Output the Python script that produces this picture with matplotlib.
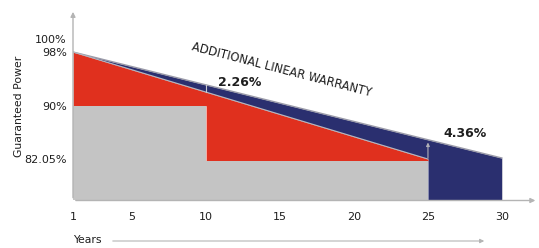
import numpy as np
import matplotlib
matplotlib.use("Agg")
import matplotlib.pyplot as plt

# ---- data ----
x_ticks = [1, 5, 10, 15, 20, 25, 30]
y_ticks = [100, 98, 90, 82.05]
y_tick_labels = ["100%", "98%", "90%", "82.05%"]

start_year = 1
start_power = 98            # both warranties start here
standard_end_year = 25
standard_end_power = 82.05  # standard (red) linear line end
linear_end_year = 30
linear_end_power = 82.2     # additional linear warranty end
step_years = [1, 10, 10, 25]
step_power = [90, 90, 81.8, 81.8]  # stepped product guarantee (grey)
gap_labels = ["2.26%", "4.36%"]

y_bottom = 75.87
y_top = 105.75

GREY = "#c4c4c4"
RED = "#e0301e"
BLUE = "#2a2f6f"
TXT = "#1e1e1e"
AX = "#b4b4b4"

fig = plt.figure(figsize=(5.39, 2.48), dpi=100)
ax = fig.add_axes([73 / 539, 1 - 200.5 / 248, 466 / 539, 200.5 / 248])
ax.set_xlim(1, 1 + 466 / 14.79)
ax.set_ylim(y_bottom, y_top)
for s in ax.spines.values():
    s.set_visible(False)


def std_line(x):
    return np.interp(x, [start_year, standard_end_year], [start_power, standard_end_power])


def lin_line(x):
    return np.interp(x, [start_year, linear_end_year], [start_power, linear_end_power])


# blue region
bx = np.array([1, 25, 25, 30])
blow = np.array([start_power, standard_end_power, y_bottom, y_bottom])
ax.fill_between(bx, blow, lin_line(bx), color=BLUE, lw=0)

# red region
rx = np.array(step_years, dtype=float)
ax.fill_between(rx, step_power, std_line(rx), color=RED, lw=0)

# grey region
ax.fill_between(rx, y_bottom, step_power, color=GREY, lw=0)

# edge lines
ax.plot([start_year, linear_end_year], [start_power, linear_end_power], color="#9a9aa8", lw=1.0)
ax.plot([start_year, standard_end_year], [start_power, standard_end_power], color="#b8b8c0", lw=0.8)
ax.plot([30, 30], [y_bottom, linear_end_power], color="#d0d0d8", lw=0.6)

# gap markers
ax.plot([10, 10], [std_line(10), lin_line(10)], color="#c8c8d0", lw=0.8)
ax.annotate("", xy=(25, lin_line(25)), xytext=(25, 81.8),
            arrowprops=dict(arrowstyle="-|>", color="#b0b0b8", lw=0.8, mutation_scale=5))

# axes arrows
ax.annotate("", xy=(1, 104.4), xytext=(1, y_bottom),
            arrowprops=dict(arrowstyle="-|>", color=AX, lw=1.0, mutation_scale=7),
            annotation_clip=False)
ax.annotate("", xy=(32.45, y_bottom), xytext=(1, y_bottom),
            arrowprops=dict(arrowstyle="-|>", color=AX, lw=1.0, mutation_scale=7),
            annotation_clip=False)

# ticks
ax.set_xticks(x_ticks)
ax.set_xticklabels([str(v) for v in x_ticks], fontsize=8, color=TXT)
ax.set_yticks(y_ticks)
ax.set_yticklabels(y_tick_labels, fontsize=8, color=TXT)
ax.tick_params(axis="both", length=0)
ax.tick_params(axis="x", pad=8)
ax.tick_params(axis="y", pad=4.5)

# labels
fig.text(19 / 539, 1 - 106 / 248, "Guaranteed Power", rotation=90, ha="center", va="center",
         fontsize=7.8, color=TXT)
fig.text(73 / 539, 1 - 240 / 248, "Years", ha="left", va="center", fontsize=7.8, color=TXT)
fig.add_artist(matplotlib.patches.FancyArrowPatch(
    (110 / 539, 1 - 241 / 248), (487 / 539, 1 - 241 / 248), transform=fig.transFigure,
    arrowstyle="-|>", color=AX, lw=0.8, mutation_scale=6))

ax.text(15.13, 95.3, "ADDITIONAL LINEAR WARRANTY", rotation=-14.5, ha="center", va="center",
        fontsize=8.3, color=TXT, rotation_mode="anchor")
ax.text(12.3, 93.5, gap_labels[0], ha="center", va="center", fontsize=9, fontweight="bold", color=TXT)
ax.text(27.5, 85.9, gap_labels[1], ha="center", va="center", fontsize=9, fontweight="bold", color=TXT)

fig.savefig("out.png", dpi=100)
